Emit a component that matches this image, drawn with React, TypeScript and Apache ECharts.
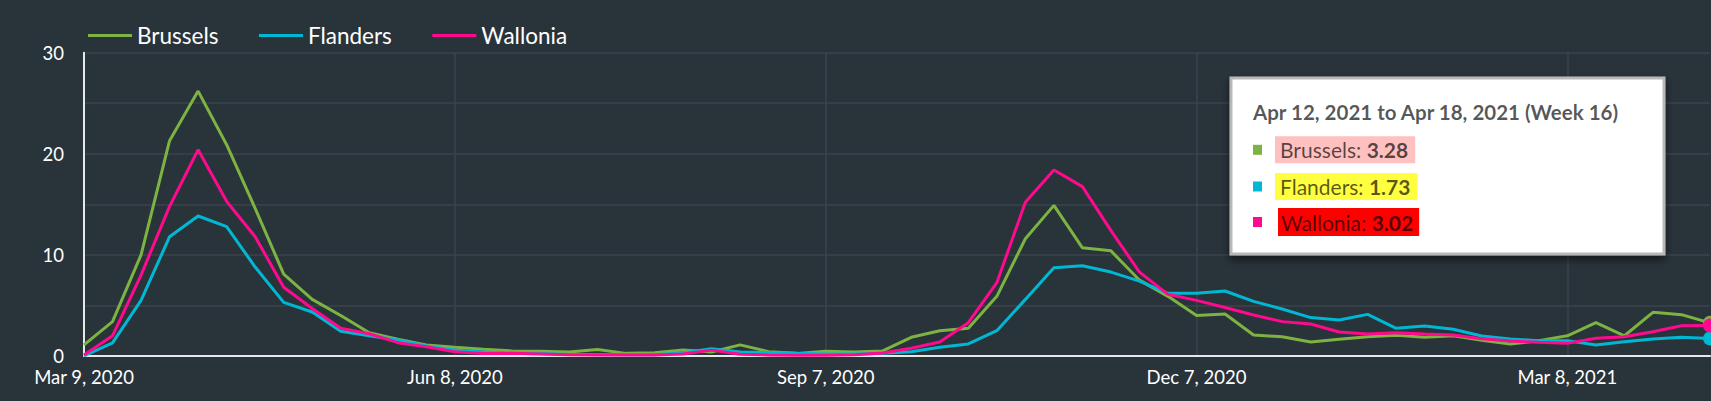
import React, { useEffect, useRef } from "react";
import * as echarts from "echarts";

const weeks: string[] = [
  "Mar 9, 2020", "Mar 16, 2020", "Mar 23, 2020", "Mar 30, 2020", "Apr 6, 2020", "Apr 13, 2020",
  "Apr 20, 2020", "Apr 27, 2020", "May 4, 2020", "May 11, 2020", "May 18, 2020", "May 25, 2020",
  "Jun 1, 2020", "Jun 8, 2020", "Jun 15, 2020", "Jun 22, 2020", "Jun 29, 2020", "Jul 6, 2020",
  "Jul 13, 2020", "Jul 20, 2020", "Jul 27, 2020", "Aug 3, 2020", "Aug 10, 2020", "Aug 17, 2020",
  "Aug 24, 2020", "Aug 31, 2020", "Sep 7, 2020", "Sep 14, 2020", "Sep 21, 2020", "Sep 28, 2020",
  "Oct 5, 2020", "Oct 12, 2020", "Oct 19, 2020", "Oct 26, 2020", "Nov 2, 2020", "Nov 9, 2020",
  "Nov 16, 2020", "Nov 23, 2020", "Nov 30, 2020", "Dec 7, 2020", "Dec 14, 2020", "Dec 21, 2020",
  "Dec 28, 2020", "Jan 4, 2021", "Jan 11, 2021", "Jan 18, 2021", "Jan 25, 2021", "Feb 1, 2021",
  "Feb 8, 2021", "Feb 15, 2021", "Feb 22, 2021", "Mar 1, 2021", "Mar 8, 2021", "Mar 15, 2021",
  "Mar 22, 2021", "Mar 29, 2021", "Apr 5, 2021", "Apr 12, 2021",
];

const brussels: number[] = [
  1.1, 3.4, 10.0, 21.3, 26.2, 20.9, 14.6, 8.1, 5.6, 4.0,
  2.3, 1.65, 1.1, 0.86, 0.66, 0.5, 0.46, 0.4, 0.65, 0.26,
  0.33, 0.6, 0.4, 1.1, 0.43, 0.26, 0.46, 0.4, 0.5, 1.85,
  2.5, 2.74, 5.9, 11.6, 14.9, 10.7, 10.4, 7.5, 5.9, 4.0,
  4.15, 2.08, 1.9, 1.38, 1.65, 1.91, 2.04, 1.85, 2.0, 1.55,
  1.19, 1.52, 2.0, 3.3, 2.0, 4.32, 4.09, 3.28,
];

const flanders: number[] = [
  0.0, 1.3, 5.5, 11.8, 13.85, 12.8, 8.8, 5.3, 4.35, 2.44,
  2.0, 1.58, 1.0, 0.59, 0.4, 0.3, 0.25, 0.15, 0.15, 0.12,
  0.12, 0.33, 0.72, 0.4, 0.33, 0.26, 0.2, 0.2, 0.26, 0.43,
  0.86, 1.19, 2.5, 5.6, 8.74, 8.93, 8.3, 7.4, 6.2, 6.2,
  6.43, 5.4, 4.65, 3.8, 3.56, 4.12, 2.74, 2.97, 2.64, 1.98,
  1.68, 1.52, 1.52, 1.09, 1.42, 1.68, 1.85, 1.73,
];

const wallonia: number[] = [
  0.1, 2.0, 8.0, 14.8, 20.4, 15.3, 11.8, 6.8, 4.7, 2.74,
  2.2, 1.32, 0.92, 0.43, 0.25, 0.26, 0.2, 0.12, 0.1, 0.1,
  0.1, 0.2, 0.58, 0.18, 0.1, 0.08, 0.08, 0.12, 0.3, 0.76,
  1.38, 3.3, 7.25, 15.2, 18.4, 16.75, 12.4, 8.3, 6.1, 5.5,
  4.8, 4.06, 3.4, 3.17, 2.37, 2.18, 2.31, 2.18, 2.08, 1.7,
  1.48, 1.35, 1.25, 1.75, 1.91, 2.4, 3.0, 3.02,
];

const seriesNames = ["Brussels", "Flanders", "Wallonia"];
const seriesColors = ["#7cb342", "#00b8d4", "#ff0a8e"];
const highlightColors = ["#ffc0c0", "#ffff40", "#ff0000"];
const tooltipTitle = "Apr 12, 2021 to Apr 18, 2021 (Week 16)";

const FONT = "Lato";
const BG = "#29333a";
const GRID = "#3b454c";
const AXIS = "#e8e8e8";

export default function App() {
  const ref = useRef<HTMLDivElement>(null);

  useEffect(() => {
    if (!ref.current) return;
    const chart = echarts.init(ref.current, undefined, { renderer: "svg" });
    const allData = [brussels, flanders, wallonia];
    const last = weeks.length - 1;

    const series = allData.map((arr, si) => ({
      name: seriesNames[si],
      type: "line",
      color: seriesColors[si],
      lineStyle: { width: 3, color: seriesColors[si] },
      symbol: "circle",
      symbolSize: 14,
      showSymbol: true,
      showAllSymbol: true,
      itemStyle: { color: seriesColors[si] },
      data: arr.map((v, i) =>
        i === last ? { value: v, symbol: "circle", symbolSize: 14 } : { value: v, symbol: "none" }
      ),
      z: 2 + si,
    }));

    const tipX = 1231;
    const tipY = 78;
    const rowY = [149.8, 186.5, 222];
    const textFill = "rgba(0,0,0,0.66)";

    const graphics: any[] = [
      {
        type: "rect",
        shape: { x: tipX, y: tipY, width: 433, height: 176 },
        style: {
          fill: "#ffffff",
          stroke: "#b8b8b8",
          lineWidth: 3,
          shadowBlur: 8,
          shadowColor: "rgba(0,0,0,0.55)",
          shadowOffsetY: 4,
        },
        z: 100,
      },
      {
        type: "text",
        x: 1253,
        y: 111.7,
        style: {
          text: tooltipTitle,
          font: `bold 20.5px ${FONT}`,
          fill: textFill,
          verticalAlign: "middle",
        },
        z: 101,
      },
    ];

    seriesNames.forEach((name, i) => {
      const val = allData[i][last].toFixed(2);
      graphics.push({
        type: "rect",
        shape: { x: 1253, y: rowY[i] - 5, width: 9, height: 10 },
        style: { fill: seriesColors[i] },
        z: 101,
      });
      graphics.push({
        type: "text",
        x: i === 2 ? 1278 : 1275,
        y: rowY[i],
        style: {
          text: `{n|${name}: }{b|${val}}`,
          rich: {
            n: { font: `21px ${FONT}`, fill: textFill },
            b: { font: `bold 21px ${FONT}`, fill: textFill },
          },
          backgroundColor: highlightColors[i],
          padding: i === 2 ? [4, 6, 3, 3] : [3, 7, 3, 5],
          verticalAlign: "middle",
        },
        z: 101,
      });
    });

    chart.setOption({
      animation: false,
      backgroundColor: BG,
      textStyle: { fontFamily: FONT },
      legend: {
        left: 83,
        top: 19,
        itemWidth: 44,
        itemHeight: 3,
        itemGap: 40.5,
        icon: "rect",
        textStyle: { color: "#ffffff", fontSize: 22.5, fontFamily: FONT },
        data: seriesNames,
      },
      grid: { left: 84, right: 1, top: 52.7, bottom: 45, containLabel: false },
      xAxis: {
        type: "category",
        data: weeks,
        boundaryGap: false,
        axisLine: { show: true, lineStyle: { color: AXIS, width: 2 } },
        axisTick: { show: false },
        axisLabel: {
          interval: 12,
          color: "#ffffff",
          fontSize: 18.5,
          fontFamily: FONT,
          margin: 11,
        },
        splitLine: { show: true, interval: 12, lineStyle: { color: GRID, width: 1.5 } },
      },
      yAxis: {
        type: "value",
        min: 0,
        max: 30,
        interval: 5,
        axisLine: { show: true, lineStyle: { color: AXIS, width: 2 } },
        axisTick: { show: false },
        axisLabel: {
          color: "#ffffff",
          fontSize: 18.5,
          fontFamily: FONT,
          margin: 20,
          formatter: (v: number) => (v % 10 === 0 ? String(v) : ""),
        },
        splitLine: { show: true, lineStyle: { color: GRID, width: 1.5 } },
      },
      series,
      graphic: graphics,
    });

    return () => chart.dispose();
  }, []);

  return (
    <div
      ref={ref}
      style={{ position: "absolute", left: 0, top: 0, width: 1711, height: 401 }}
    />
  );
}
